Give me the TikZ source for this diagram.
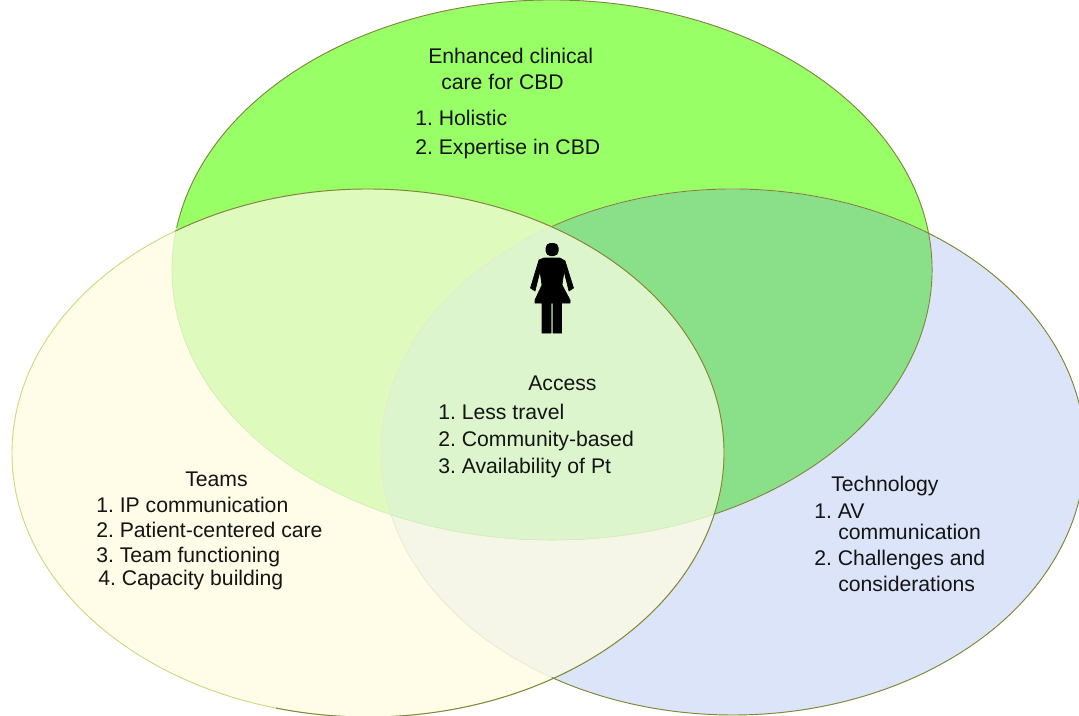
\documentclass[tikz,border=0pt]{standalone}
\usepackage{fontspec}
\setmainfont{Liberation Sans}
\frenchspacing
\definecolor{greenonly}{RGB}{153,255,102}
\definecolor{teamsonly}{RGB}{255,252,232}
\definecolor{techonly}{RGB}{220,228,250}
\definecolor{greenteams}{RGB}{223,250,189}
\definecolor{greentech}{RGB}{138,224,136}
\definecolor{teamstech}{RGB}{245,245,232}
\definecolor{allthree}{RGB}{221,245,204}
\definecolor{olive}{RGB}{125,135,60}
\tikzset{
  itemtxt/.style={anchor=base west,inner sep=0.75pt,text={rgb,255:red,20;green,20;blue,20},font=\fontsize{15.9}{18}\selectfont},
  rimdark/.style={color=olive,line width=0.7pt},
}
\begin{document}
\begin{tikzpicture}[x=0.75pt,y=0.75pt,yscale=-1]
\useasboundingbox (0,0) rectangle (1079,715);
\begin{scope}
\clip (0,0) rectangle (1079,715);
%Shape: Ellipse, Technology
\fill [techonly] (733,452) ellipse [x radius=352,y radius=263];
%Shape: Ellipse, Teams
\fill [teamsonly] (368,453) ellipse [x radius=356,y radius=264];
%Overlap: Teams and Technology
\begin{scope}
\clip (368,453) ellipse [x radius=356,y radius=264];
\fill [teamstech] (733,452) ellipse [x radius=352,y radius=263];
\end{scope}
%Shape: Ellipse, Enhanced clinical care
\fill [greenonly] (552,270) ellipse [x radius=380,y radius=270];
%Overlap: care with the others
\begin{scope}
\clip (552,270) ellipse [x radius=380,y radius=270];
\fill [greenteams] (368,453) ellipse [x radius=356,y radius=264];
\fill [greentech] (733,452) ellipse [x radius=352,y radius=263];
\clip (368,453) ellipse [x radius=356,y radius=264];
\fill [allthree] (733,452) ellipse [x radius=352,y radius=263];
\end{scope}
%Faint rims
\draw [color={rgb,255:red,232;green,236;blue,205},line width=0.6pt] (733,452) ellipse [x radius=352,y radius=263];
\draw [color={rgb,255:red,212;green,240;blue,185},line width=0.6pt] (552,270) ellipse [x radius=380,y radius=270];
\draw [color={rgb,255:red,210;green,215;blue,130},line width=0.7pt] (368,453) ellipse [x radius=356,y radius=264];
%Dark rims
\draw [rimdark] (733,452) ++(-120.9:352 and 263) arc [start angle=-120.9,end angle=121,x radius=352,y radius=263];
\draw [rimdark] (552,270) ++(-171:380 and 270) arc [start angle=-171,end angle=64.8,x radius=380,y radius=270];
\draw [rimdark] (368,453) ++(-122.8:356 and 264) arc [start angle=-122.8,end angle=105,x radius=356,y radius=264];
\end{scope}
%Shape: Person
\fill [black,rounded corners=3.5] (545.7,243) rectangle (558.5,256);
\draw [black,fill=black,line width=0.5pt,line join=round] (539,260) -- (544,258) -- (560,258) -- (565,261) -- (573.5,288) -- (569,291) -- (564,271) -- (562,285) -- (570,300) -- (570,303) -- (561.5,303) -- (561.5,333) -- (553,333) -- (553,303) -- (551,303) -- (551,333) -- (542,333) -- (542,303) -- (535,303) -- (535,300) -- (542,285) -- (540,271) -- (535,291) -- (530.5,288) -- cycle;

% Text Node
\node (careA) [itemtxt] at (427,63) {Enhanced clinical};
\node (careB) [itemtxt] at (440,89) {care for CBD};
\node (careC) [itemtxt] at (414,125) {1. Holistic};
\node (careD) [itemtxt] at (414,154) {2. Expertise in CBD};
% Text Node
\node (accessA) [itemtxt] at (527,390) {Access};
\node (accessB) [itemtxt] at (437,419) {1. Less travel};
\node (accessC) [itemtxt] at (437,446) {2. Community-based};
\node (accessD) [itemtxt] at (437,473) {3. Availability of Pt};
% Text Node
\node (teamsA) [itemtxt] at (184,486) {Teams};
\node (teamsB) [itemtxt] at (95,512) {1. IP communication};
\node (teamsC) [itemtxt] at (95,537) {2. Patient-centered care};
\node (teamsD) [itemtxt] at (95,562) {3. Team functioning};
\node (teamsE) [itemtxt] at (97,585) {4. Capacity building};
% Text Node
\node (techA) [itemtxt] at (830,491) {Technology};
\node (techB) [itemtxt] at (813,518) {1. AV};
\node (techC) [itemtxt] at (837,539) {communication};
\node (techD) [itemtxt] at (813,565) {2. Challenges and};
\node (techE) [itemtxt] at (837,591) {considerations};
\end{tikzpicture}
\end{document}
